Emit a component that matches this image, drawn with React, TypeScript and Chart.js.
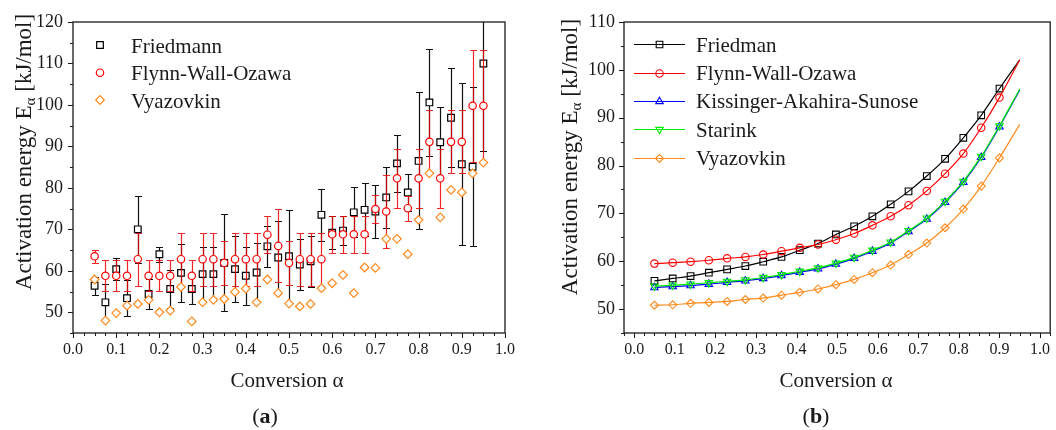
import React, { useEffect, useRef } from 'react';
import { Chart, registerables } from 'chart.js';
import { drawPoint } from 'chart.js/helpers';

Chart.register(...registerables);

// ---------------- Panel (a) data ----------------
const alphaA = [0.05, 0.075, 0.1, 0.125, 0.15, 0.175, 0.2, 0.225, 0.25, 0.275, 0.3, 0.325, 0.35, 0.375, 0.4, 0.425, 0.45, 0.475, 0.5, 0.525, 0.55, 0.575, 0.6, 0.625, 0.65, 0.675, 0.7, 0.725, 0.75, 0.775, 0.8, 0.825, 0.85, 0.875, 0.9, 0.925, 0.95];
const friedmannA = [56.4, 52.4, 60.4, 53.4, 70.0, 54.4, 64.0, 55.6, 59.5, 55.6, 59.2, 59.2, 61.9, 60.4, 58.8, 59.6, 65.9, 63.2, 63.5, 61.5, 62.3, 73.5, 69.2, 69.7, 74.1, 74.7, 74.3, 77.7, 85.9, 78.9, 86.5, 100.6, 91.0, 96.9, 85.7, 85.1, 110.0];
const friedmannErrA = [2.2, 4.3, 2.6, 4.3, 8.0, 3.6, 1.8, 4.5, 7.0, 3.6, 6.5, 6.5, 11.7, 8.0, 7.0, 7.0, 5.0, 8.7, 11.2, 6.2, 6.1, 6.2, 4.0, 3.5, 6.0, 6.4, 6.4, 7.3, 6.8, 4.5, 16.5, 12.9, 8.6, 11.9, 19.5, 19.2, 21.0];
const fwoA = [63.5, 58.8, 58.8, 58.8, 62.8, 58.8, 58.8, 58.8, 62.8, 58.8, 62.8, 62.8, 61.9, 62.8, 62.8, 62.8, 68.7, 66.0, 61.9, 62.8, 62.8, 62.8, 68.8, 68.8, 68.8, 68.8, 74.9, 74.3, 82.3, 75.1, 82.3, 91.1, 82.3, 91.1, 91.1, 99.8, 99.8];
const fwoErrA = [1.6, 3.7, 3.7, 3.7, 6.4, 3.7, 3.7, 3.7, 6.4, 3.7, 6.4, 6.4, 5.3, 6.4, 6.4, 6.4, 4.4, 8.8, 5.3, 6.4, 6.4, 6.4, 4.5, 4.5, 4.5, 4.5, 3.4, 8.8, 7.1, 3.0, 7.1, 7.6, 7.1, 7.6, 7.6, 13.5, 13.5];
const vyazovkinA = [57.9, 48.0, 49.8, 51.6, 52.0, 53.0, 50.0, 50.4, 56.1, 47.8, 52.4, 53.0, 53.2, 54.9, 55.7, 52.4, 57.9, 54.6, 52.1, 51.4, 52.0, 55.8, 57.0, 59.0, 54.6, 60.8, 60.7, 67.7, 67.7, 64.0, 72.3, 83.5, 72.9, 79.5, 78.9, 83.5, 86.1];

// ---------------- Panel (b) data ----------------
const alphaB = [0.05, 0.095, 0.139, 0.184, 0.229, 0.274, 0.318, 0.363, 0.408, 0.453, 0.497, 0.542, 0.587, 0.632, 0.676, 0.721, 0.766, 0.811, 0.855, 0.9, 0.95];
const friedmanB = [55.9, 56.4, 56.9, 57.6, 58.3, 59.0, 59.9, 60.9, 62.3, 63.7, 65.6, 67.3, 69.4, 71.9, 74.6, 77.8, 81.4, 85.8, 90.5, 96.1, 102.1];
const fwoB = [59.5, 59.7, 59.9, 60.2, 60.6, 60.9, 61.4, 62.1, 62.8, 63.5, 64.5, 65.8, 67.5, 69.4, 71.7, 74.7, 78.3, 82.5, 87.9, 94.2, 102.1];
const kasB = [54.5, 54.7, 54.9, 55.2, 55.6, 55.9, 56.4, 57.0, 57.7, 58.4, 59.4, 60.6, 62.1, 63.8, 66.2, 68.8, 72.3, 76.5, 81.7, 88.1, 95.8];
const starinkB = [54.8, 55.0, 55.2, 55.5, 55.8, 56.1, 56.6, 57.2, 57.9, 58.6, 59.6, 60.8, 62.3, 64.0, 66.4, 69.0, 72.5, 76.7, 81.9, 88.3, 96.0];
const vyazovkinB = [50.8, 50.9, 51.2, 51.4, 51.6, 52.0, 52.3, 52.9, 53.5, 54.2, 55.1, 56.2, 57.6, 59.2, 61.4, 63.8, 67.0, 70.9, 75.7, 81.6, 88.6];

// ---------------- ticks / labels ----------------
const xTickValues = [0, 0.1, 0.2, 0.3, 0.4, 0.5, 0.6, 0.7, 0.8, 0.9, 1.0];
const xTickLabels = ['0.0', '0.1', '0.2', '0.3', '0.4', '0.5', '0.6', '0.7', '0.8', '0.9', '1.0'];
const yTicksA = [50, 60, 70, 80, 90, 100, 110, 120];
const yTicksB = [50, 60, 70, 80, 90, 100, 110];

const SERIF = '"Liberation Serif", "Times New Roman", serif';
const INK = '#1a1a1a';
const ORANGE = '#ff8a1c';

function drawFrame(chart: any) {
  const { ctx, chartArea: a } = chart;
  const sx = chart.scales.x;
  const sy = chart.scales.y;
  ctx.save();
  ctx.strokeStyle = INK;
  ctx.lineWidth = 1.3;
  ctx.strokeRect(a.left, a.top, a.right - a.left, a.bottom - a.top);
  ctx.lineWidth = 1;
  ctx.beginPath();
  const xs = 0.025;
  for (let k = Math.ceil(sx.min / xs - 1e-6); k <= Math.floor(sx.max / xs + 1e-6); k++) {
    const v = k * xs;
    const major = k % 4 === 0;
    const px = Math.round(sx.getPixelForValue(v)) + 0.5;
    ctx.moveTo(px, a.bottom);
    ctx.lineTo(px, a.bottom + (major ? 5 : 3));
  }
  const ys = 5;
  for (let k = Math.ceil(sy.min / ys - 1e-6); k <= Math.floor(sy.max / ys + 1e-6); k++) {
    const v = k * ys;
    const major = k % 2 === 0;
    const py = Math.round(sy.getPixelForValue(v)) + 0.5;
    ctx.moveTo(a.left, py);
    ctx.lineTo(a.left - (major ? 5 : 3), py);
  }
  ctx.stroke();
  ctx.restore();
}

function drawYTitle(ctx: CanvasRenderingContext2D, cx: number, cy: number) {
  const main = `23px ${SERIF}`;
  const sub = `15px ${SERIF}`;
  const p1 = 'Activation energy E';
  const p2 = 'α';
  const p3 = ' [kJ/mol]';
  ctx.save();
  ctx.font = main;
  const w1 = ctx.measureText(p1).width;
  const w3 = ctx.measureText(p3).width;
  ctx.font = sub;
  const w2 = ctx.measureText(p2).width;
  const total = w1 + w2 + w3;
  ctx.translate(cx, cy);
  ctx.rotate(-Math.PI / 2);
  ctx.fillStyle = INK;
  ctx.textAlign = 'left';
  ctx.textBaseline = 'alphabetic';
  let u = -total / 2;
  ctx.font = main;
  ctx.fillText(p1, u, 0);
  u += w1;
  ctx.font = sub;
  ctx.fillText(p2, u, 4);
  u += w2;
  ctx.font = main;
  ctx.fillText(p3, u, 0);
  ctx.restore();
}

function drawXTitle(ctx: CanvasRenderingContext2D, cx: number, baseline: number) {
  ctx.save();
  ctx.font = `21px ${SERIF}`;
  ctx.fillStyle = INK;
  ctx.textAlign = 'center';
  ctx.textBaseline = 'alphabetic';
  ctx.fillText('Conversion α', cx, baseline);
  ctx.restore();
}

function drawPanelLabel(ctx: CanvasRenderingContext2D, cx: number, baseline: number, letter: string) {
  ctx.save();
  const normal = `22px ${SERIF}`;
  const bold = `bold 22px ${SERIF}`;
  ctx.font = normal;
  const wp = ctx.measureText('(').width;
  const wq = ctx.measureText(')').width;
  ctx.font = bold;
  const wl = ctx.measureText(letter).width;
  let x = cx - (wp + wl + wq) / 2;
  ctx.fillStyle = INK;
  ctx.textAlign = 'left';
  ctx.textBaseline = 'alphabetic';
  ctx.font = normal;
  ctx.fillText('(', x, baseline);
  x += wp;
  ctx.font = bold;
  ctx.fillText(letter, x, baseline);
  x += wl;
  ctx.font = normal;
  ctx.fillText(')', x, baseline);
  ctx.restore();
}

function drawErrorBars(chart: any, xs: number[], ys: number[], es: number[], color: string) {
  const { ctx, chartArea: a } = chart;
  const sx = chart.scales.x;
  const sy = chart.scales.y;
  ctx.save();
  ctx.beginPath();
  ctx.rect(a.left, a.top, a.right - a.left, a.bottom - a.top);
  ctx.clip();
  ctx.strokeStyle = color;
  ctx.lineWidth = 1.2;
  ctx.beginPath();
  for (let i = 0; i < xs.length; i++) {
    const px = Math.round(sx.getPixelForValue(xs[i])) + 0.5;
    const top = Math.round(sy.getPixelForValue(ys[i] + es[i])) + 0.5;
    const bot = Math.round(sy.getPixelForValue(ys[i] - es[i])) + 0.5;
    ctx.moveTo(px, top);
    ctx.lineTo(px, bot);
    ctx.moveTo(px - 3.5, top);
    ctx.lineTo(px + 3.5, top);
    ctx.moveTo(px - 3.5, bot);
    ctx.lineTo(px + 3.5, bot);
  }
  ctx.stroke();
  ctx.restore();
}

function legendMarker(ctx: CanvasRenderingContext2D, style: any, x: number, y: number, color: string, fill: string) {
  ctx.save();
  ctx.strokeStyle = color;
  ctx.fillStyle = fill;
  ctx.lineWidth = style.borderWidth;
  drawPoint(ctx, { pointStyle: style.pointStyle, radius: style.radius, rotation: style.rotation || 0, borderWidth: style.borderWidth } as any, x, y);
  ctx.restore();
}

const seriesA = [
  { label: 'Friedmann', color: '#000000', pointStyle: 'rect', radius: 4.7, rotation: 0, borderWidth: 1.2 },
  { label: 'Flynn-Wall-Ozawa', color: '#ff0000', pointStyle: 'circle', radius: 3.7, rotation: 0, borderWidth: 1.2 },
  { label: 'Vyazovkin', color: ORANGE, pointStyle: 'rectRot', radius: 4.3, rotation: 0, borderWidth: 1.2 },
];

const seriesB = [
  { label: 'Friedman', color: '#000000', pointStyle: 'rect', radius: 4.7, rotation: 0, borderWidth: 1.1 },
  { label: 'Flynn-Wall-Ozawa', color: '#ff0000', pointStyle: 'circle', radius: 3.7, rotation: 0, borderWidth: 1.1 },
  { label: 'Kissinger-Akahira-Sunose', color: '#0000ff', pointStyle: 'triangle', radius: 4.3, rotation: 0, borderWidth: 1.1 },
  { label: 'Starink', color: '#00ee00', pointStyle: 'triangle', radius: 4.3, rotation: 180, borderWidth: 1.1 },
  { label: 'Vyazovkin', color: ORANGE, pointStyle: 'rectRot', radius: 4.0, rotation: 0, borderWidth: 1.1 },
];

const panelAPlugin = {
  id: 'panelA',
  beforeDatasetDraw(chart: any, args: any) {
    if (args.index === 0) drawErrorBars(chart, alphaA, friedmannA, friedmannErrA, '#111111');
    if (args.index === 1) drawErrorBars(chart, alphaA, fwoA, fwoErrA, 'rgba(240,0,0,0.85)');
  },
  afterDraw(chart: any) {
    const ctx = chart.ctx as CanvasRenderingContext2D;
    drawFrame(chart);
    const rows = [45, 72.7, 100];
    seriesA.forEach((s, i) => {
      legendMarker(ctx, s, 100, rows[i], s.color, '#ffffff');
      ctx.save();
      ctx.font = `21px ${SERIF}`;
      ctx.fillStyle = INK;
      ctx.textAlign = 'left';
      ctx.textBaseline = 'alphabetic';
      ctx.fillText(s.label, 131, rows[i] + 7.5);
      ctx.restore();
    });
    drawYTitle(ctx, 30.5, 152);
    drawXTitle(ctx, 287, 387);
    drawPanelLabel(ctx, 265, 423, 'a');
  },
};

const panelBPlugin = {
  id: 'panelB',
  afterDraw(chart: any) {
    const ctx = chart.ctx as CanvasRenderingContext2D;
    drawFrame(chart);
    const rows = [44.3, 72.6, 100.9, 129.2, 157.5];
    seriesB.forEach((s, i) => {
      ctx.save();
      ctx.strokeStyle = s.color;
      ctx.lineWidth = 1.2;
      ctx.beginPath();
      ctx.moveTo(106, Math.round(rows[i]) + 0.5);
      ctx.lineTo(157, Math.round(rows[i]) + 0.5);
      ctx.stroke();
      ctx.restore();
      legendMarker(ctx, s, 131.5, Math.round(rows[i]) + 0.5, s.color, 'rgba(255,255,255,0)');
      ctx.save();
      ctx.font = `21px ${SERIF}`;
      ctx.fillStyle = INK;
      ctx.textAlign = 'left';
      ctx.textBaseline = 'alphabetic';
      ctx.fillText(s.label, 168, rows[i] + 7.5);
      ctx.restore();
    });
    drawYTitle(ctx, 49, 157);
    drawXTitle(ctx, 308, 387);
    drawPanelLabel(ctx, 288, 423, 'b');
  },
};

function xScale(min: number, max: number) {
  return {
    type: 'linear',
    min,
    max,
    afterBuildTicks: (s: any) => {
      s.ticks = xTickValues.map((v) => ({ value: v }));
    },
    afterFit: (s: any) => {
      s.height = 97;
      s.paddingLeft = 0;
      s.paddingRight = 0;
    },
    grid: { display: false, drawTicks: false },
    border: { display: false },
    ticks: {
      padding: 7,
      color: INK,
      font: { family: SERIF, size: 16 },
      maxRotation: 0,
      autoSkip: false,
      callback: (_v: any, i: number) => xTickLabels[i],
    },
  };
}

function yScale(min: number, max: number, ticks: number[], width: number, pad: number) {
  return {
    type: 'linear',
    min,
    max,
    afterBuildTicks: (s: any) => {
      s.ticks = ticks.map((v) => ({ value: v }));
    },
    afterFit: (s: any) => {
      s.width = width;
      s.paddingTop = 0;
      s.paddingBottom = 0;
    },
    grid: { display: false, drawTicks: false },
    border: { display: false },
    ticks: {
      padding: pad,
      color: INK,
      font: { family: SERIF, size: 18 },
      autoSkip: false,
      callback: (v: any) => String(v),
    },
  };
}

function configA(): any {
  const ds = [friedmannA, fwoA, vyazovkinA];
  return {
    type: 'scatter',
    data: {
      datasets: seriesA.map((s, k) => ({
        label: s.label,
        data: alphaA.map((x, i) => ({ x, y: ds[k][i] })),
        showLine: false,
        pointStyle: s.pointStyle,
        pointRadius: s.radius,
        pointBorderWidth: s.borderWidth,
        borderColor: s.color,
        pointBorderColor: s.color,
        pointBackgroundColor: '#ffffff',
        backgroundColor: '#ffffff',
        order: 3 - k,
      })),
    },
    options: {
      responsive: false,
      animation: false,
      events: [],
      layout: { padding: { left: 0, top: 22, right: 23, bottom: 0 } },
      plugins: { legend: { display: false }, tooltip: { enabled: false }, title: { display: false } },
      scales: {
        x: xScale(0, 1),
        y: yScale(45, 120, yTicksA, 73, 10),
      },
    },
    plugins: [panelAPlugin],
  };
}

function configB(): any {
  const ds = [friedmanB, fwoB, kasB, starinkB, vyazovkinB];
  const last = alphaB.length - 1;
  return {
    type: 'line',
    data: {
      datasets: seriesB.map((s, k) => ({
        label: s.label,
        data: alphaB.map((x, i) => ({ x, y: ds[k][i] })),
        borderColor: s.color,
        borderWidth: 1.2,
        backgroundColor: 'rgba(255,255,255,0)',
        fill: false,
        cubicInterpolationMode: 'monotone',
        pointStyle: s.pointStyle,
        pointRotation: s.rotation,
        pointRadius: (c: any) => (c.dataIndex === last ? 0 : s.radius),
        pointBorderWidth: s.borderWidth,
        pointBorderColor: s.color,
        pointBackgroundColor: 'rgba(255,255,255,0)',
        order: 5 - k,
      })),
    },
    options: {
      responsive: false,
      animation: false,
      events: [],
      layout: { padding: { left: 0, top: 22, right: 0, bottom: 0 } },
      plugins: { legend: { display: false }, tooltip: { enabled: false }, title: { display: false } },
      scales: {
        x: xScale(-0.025, 1.025),
        y: yScale(45, 110, yTicksB, 96, 9),
      },
    },
    plugins: [panelBPlugin],
  };
}

function ChartCanvas({ make, left }: { make: () => any; left: number }) {
  const ref = useRef<HTMLCanvasElement>(null);
  useEffect(() => {
    const chart = new Chart(ref.current as HTMLCanvasElement, make());
    return () => chart.destroy();
  }, []);
  return (
    <canvas
      ref={ref}
      width={528}
      height={430}
      style={{ position: 'absolute', left, top: 0, width: 528, height: 430 }}
    />
  );
}

export default function App() {
  return (
    <div style={{ position: 'absolute', left: 0, top: 0, width: 1056, height: 430, background: '#ffffff', overflow: 'hidden' }}>
      <ChartCanvas make={configA} left={0} />
      <ChartCanvas make={configB} left={528} />
    </div>
  );
}
